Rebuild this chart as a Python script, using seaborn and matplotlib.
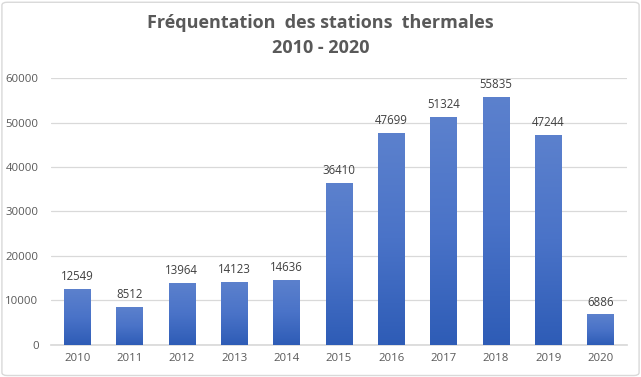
import numpy as np
import pandas as pd
import matplotlib
matplotlib.use("Agg")
import matplotlib.pyplot as plt
from matplotlib.colors import LinearSegmentedColormap
from matplotlib.patches import FancyBboxPatch
import seaborn as sns

years = ["2010", "2011", "2012", "2013", "2014", "2015", "2016", "2017", "2018", "2019", "2020"]
visits = [12549, 8512, 13964, 14123, 14636, 36410, 47699, 51324, 55835, 47244, 6886]
yticks = [0, 10000, 20000, 30000, 40000, 50000, 60000]
title = "Fréquentation  des stations  thermales\n2010 - 2020"

sns.set_theme(style="white")
plt.rcParams['font.family'] = ['Open Sans', 'DejaVu Sans']

df = pd.DataFrame({"year": years, "visits": visits})

fig = plt.figure(figsize=(6.41, 3.77), dpi=100)
ax = fig.add_axes([0.0796, 0.085, 0.898, 0.708])
sns.barplot(data=df, x="year", y="visits", ax=ax, width=0.5, color="#4472C4",
            saturation=1, zorder=3)

cmap = LinearSegmentedColormap.from_list("g", ["#2E5CB6", "#4A73C8", "#5C81CD"])
grad = np.linspace(0, 1, 256).reshape(-1, 1)
for p in ax.patches:
    x0, y0 = p.get_x(), p.get_y()
    w, h = p.get_width(), p.get_height()
    im = ax.imshow(grad, cmap=cmap, origin="lower", aspect="auto",
                   extent=[x0, x0 + w, y0, y0 + h], zorder=3)
    im.set_clip_path(p)
    p.set_facecolor("none")
    p.set_edgecolor("none")

for i, v in enumerate(visits):
    ax.text(i, v + 1300, str(v), ha="center", va="bottom", fontsize=8.3,
            color="#404040")

ax.set_xlim(-0.5, len(years) - 0.5)
ax.set_ylim(0, 60000)
ax.set_yticks(yticks)
ax.set_yticklabels([str(t) for t in yticks])
ax.yaxis.grid(True, color="#D9D9D9", linewidth=0.9, zorder=0)
ax.set_axisbelow(True)
for s in ["top", "right", "left"]:
    ax.spines[s].set_visible(False)
ax.spines["bottom"].set_color("#D9D9D9")
ax.tick_params(axis="both", length=0, labelsize=8.2, colors="#595959")
ax.tick_params(axis="y", pad=9)
ax.tick_params(axis="x", pad=6)
ax.set_xlabel("")
ax.set_ylabel("")

fig.text(0.5, 0.905, title, ha="center", va="center", fontsize=13,
         fontweight="bold", color="#595959", linespacing=1.5)

border = FancyBboxPatch((0.003, 0.004), 0.994, 0.99, boxstyle="round,pad=0,rounding_size=0.008",
                        transform=fig.transFigure, facecolor="none",
                        edgecolor="#D9D9D9", linewidth=1.0)
fig.patches.append(border)

fig.savefig("out.png", dpi=100)
